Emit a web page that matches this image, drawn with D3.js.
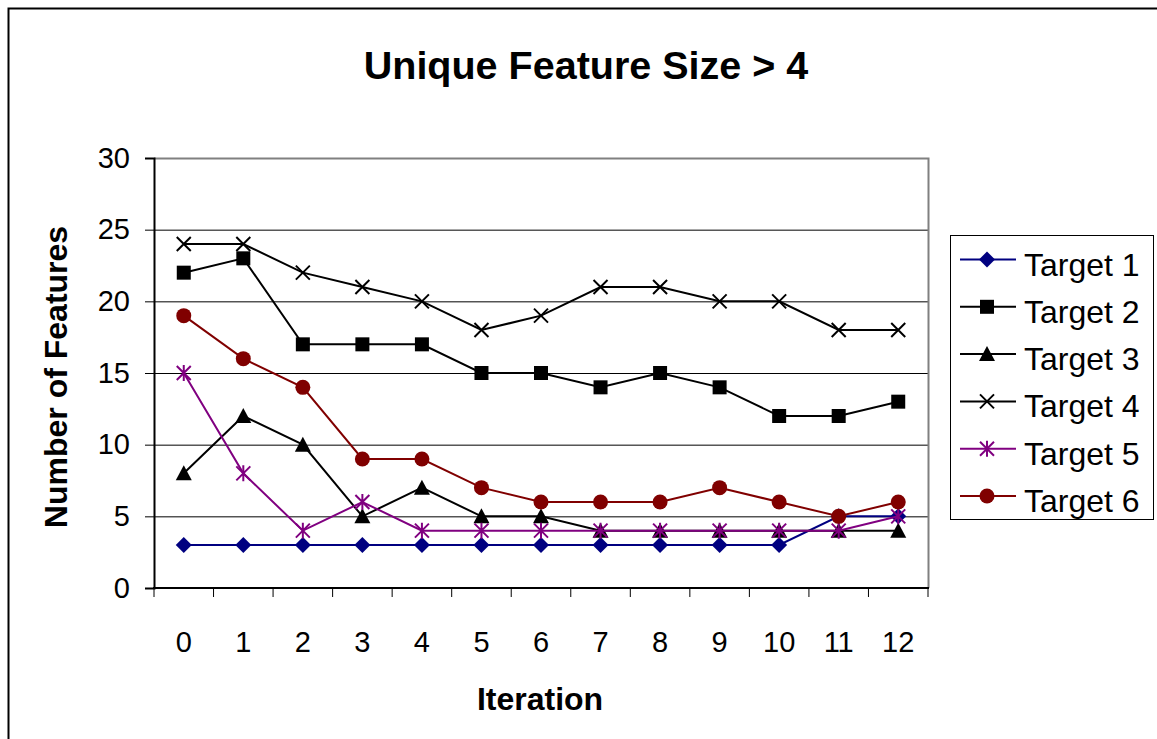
<!DOCTYPE html>
<html>
<head>
<meta charset="utf-8">
<script src="https://cdn.jsdelivr.net/npm/d3@7"></script>
<style>
  html, body { margin: 0; padding: 0; background: #fff; }
  svg { display: block; font-family: "Liberation Sans", Arial, sans-serif; }
</style>
</head>
<body>
<svg id="chart" width="1157" height="739"></svg>
<script>
// Iteration categories and number of unique features per target
const iterations = [0, 1, 2, 3, 4, 5, 6, 7, 8, 9, 10, 11, 12];
const target1 = [3, 3, 3, 3, 3, 3, 3, 3, 3, 3, 3, 5, 5];
const target2 = [22, 23, 17, 17, 17, 15, 15, 14, 15, 14, 12, 12, 13];
const target3 = [8, 12, 10, 5, 7, 5, 5, 4, 4, 4, 4, 4, 4];
const target4 = [24, 24, 22, 21, 20, 18, 19, 21, 21, 20, 20, 18, 18];
const target5 = [15, 8, 4, 6, 4, 4, 4, 4, 4, 4, 4, 4, 5];
const target6 = [19, 16, 14, 9, 9, 7, 6, 6, 6, 7, 6, 5, 6];
const yTicks = [0, 5, 10, 15, 20, 25, 30];
const seriesNames = ["Target 1", "Target 2", "Target 3", "Target 4", "Target 5", "Target 6"];

const series = [
  { name: seriesNames[0], values: target1, color: "#000080", marker: "diamond" },
  { name: seriesNames[1], values: target2, color: "#000000", marker: "square" },
  { name: seriesNames[2], values: target3, color: "#000000", marker: "triangle" },
  { name: seriesNames[3], values: target4, color: "#000000", marker: "cross" },
  { name: seriesNames[4], values: target5, color: "#800080", marker: "star" },
  { name: seriesNames[5], values: target6, color: "#800000", marker: "circle" }
];

const svg = d3.select("#chart");

// outer chart frame (only top/left edges fall inside the view)
svg.append("path")
  .attr("d", "M8.5,739 V8.5 H1157")
  .attr("fill", "none").attr("stroke", "#000").attr("stroke-width", 2);

const plot = { left: 154, right: 928, top: 158, bottom: 588 };

const x = d3.scaleBand().domain(iterations).range([plot.left, plot.right]);
const y = d3.scaleLinear().domain([0, 30]).range([plot.bottom, plot.top]);

// horizontal gridlines
svg.append("g").selectAll("line")
  .data(yTicks.filter(t => t > 0 && t < 30))
  .join("line")
  .attr("x1", plot.left).attr("x2", plot.right)
  .attr("y1", d => y(d) + 0.5).attr("y2", d => y(d) + 0.5)
  .attr("stroke", "#000").attr("stroke-width", 1);

// plot area border on top and right
svg.append("path")
  .attr("d", `M${plot.left},${y(30) + 0.5} H${plot.right + 0.5} V${plot.bottom}`)
  .attr("fill", "none").attr("stroke", "#808080").attr("stroke-width", 2);

// y axis
const yAxis = svg.append("g").attr("transform", `translate(${plot.left},0)`)
  .call(d3.axisLeft(y).tickValues(yTicks).tickSize(9).tickPadding(15));
yAxis.select(".domain").attr("stroke", "#000").attr("stroke-width", 2);
yAxis.selectAll(".tick line").attr("stroke", "#000");
yAxis.selectAll("text").attr("font-size", 29).attr("fill", "#000")
  .attr("font-family", "Liberation Sans, Arial, sans-serif");

// x axis with ticks between categories
const xAxisG = svg.append("g").attr("transform", `translate(0,${plot.bottom})`);
xAxisG.append("line")
  .attr("x1", plot.left - 1).attr("x2", plot.right + 1)
  .attr("y1", 0).attr("y2", 0)
  .attr("stroke", "#000").attr("stroke-width", 2);
const boundaries = iterations.map(d => x(d)).concat([x(iterations[iterations.length - 1]) + x.bandwidth()]);
xAxisG.selectAll("line.tick")
  .data(boundaries)
  .join("line").attr("class", "tick")
  .attr("x1", d => d).attr("x2", d => d)
  .attr("y1", 0).attr("y2", 9)
  .attr("stroke", "#000").attr("stroke-width", 1);
xAxisG.selectAll("text")
  .data(iterations)
  .join("text")
  .attr("x", d => x(d) + x.bandwidth() / 2)
  .attr("y", 64)
  .attr("text-anchor", "middle")
  .attr("font-size", 29)
  .text(d => d);

// line generator
const line = d3.line()
  .x((d, i) => x(iterations[i]) + x.bandwidth() / 2)
  .y(d => y(d));

function drawMarker(g, type, color, cx, cy) {
  const s = 7;
  if (type === "diamond") {
    g.append("path").attr("d", `M${cx},${cy - 8} L${cx + 8},${cy} L${cx},${cy + 8} L${cx - 8},${cy} Z`).attr("fill", color);
  } else if (type === "square") {
    g.append("rect").attr("x", cx - s).attr("y", cy - s).attr("width", 2 * s).attr("height", 2 * s).attr("fill", color);
  } else if (type === "triangle") {
    g.append("path").attr("d", `M${cx},${cy - 8} L${cx + 8},${cy + 7} L${cx - 8},${cy + 7} Z`).attr("fill", color);
  } else if (type === "cross") {
    g.append("path").attr("d", `M${cx - s},${cy - s} L${cx + s},${cy + s} M${cx - s},${cy + s} L${cx + s},${cy - s}`)
      .attr("stroke", color).attr("stroke-width", 2);
  } else if (type === "star") {
    g.append("path").attr("d", `M${cx - s},${cy - s} L${cx + s},${cy + s} M${cx - s},${cy + s} L${cx + s},${cy - s} M${cx},${cy - s - 1} L${cx},${cy + s + 1}`)
      .attr("stroke", color).attr("stroke-width", 2);
  } else if (type === "circle") {
    g.append("circle").attr("cx", cx).attr("cy", cy).attr("r", 7.5).attr("fill", color);
  }
}

// series lines and markers
series.forEach(s => {
  const g = svg.append("g");
  g.append("path").datum(s.values).attr("d", line)
    .attr("fill", "none").attr("stroke", s.color).attr("stroke-width", 2);
  s.values.forEach((v, i) => drawMarker(g, s.marker, s.color, x(iterations[i]) + x.bandwidth() / 2, y(v)));
});

// legend
const legend = svg.append("g");
legend.append("rect")
  .attr("x", 950.5).attr("y", 235.5).attr("width", 203).attr("height", 284)
  .attr("fill", "#fff").attr("stroke", "#000").attr("stroke-width", 1);
series.forEach((s, i) => {
  const ly = 259.5 + i * 47.3;
  const g = legend.append("g");
  g.append("line").attr("x1", 960).attr("x2", 1016).attr("y1", ly).attr("y2", ly)
    .attr("stroke", s.color).attr("stroke-width", 2);
  drawMarker(g, s.marker, s.color, 987, ly);
  g.append("text").attr("x", 1024).attr("y", ly + 16).attr("font-size", 32).text(s.name);
});

// titles
svg.append("text").attr("x", 586).attr("y", 79).attr("text-anchor", "middle")
  .attr("font-size", 39.5).attr("font-weight", "bold").text("Unique Feature Size > 4");
svg.append("text").attr("x", 540).attr("y", 710).attr("text-anchor", "middle")
  .attr("font-size", 32).attr("font-weight", "bold").text("Iteration");
svg.append("text").attr("transform", "translate(67,377) rotate(-90)").attr("text-anchor", "middle")
  .attr("font-size", 32).attr("font-weight", "bold").text("Number of Features");
</script>
</body>
</html>
